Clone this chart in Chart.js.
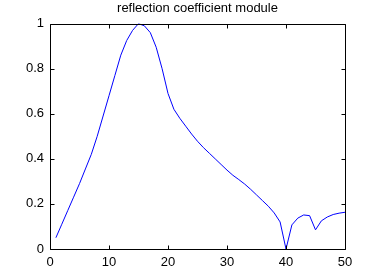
<!DOCTYPE html>
<html>
<head>
<meta charset="utf-8">
<script src="https://cdn.jsdelivr.net/npm/chart.js@4.4.1/dist/chart.umd.min.js"></script>
<style>
  html, body { margin: 0; padding: 0; background: #fff; }
  #wrap { width: 381px; height: 280px; }
</style>
</head>
<body>
<div id="wrap"><canvas id="c" width="381" height="280"></canvas></div>
<script>
// sample index and reflection coefficient magnitude
const xs = [1, 2, 3, 4, 5, 6, 7, 8, 9, 10,
            11, 12, 13, 14, 15, 16, 17, 18, 19, 20,
            21, 22, 23, 24, 25, 26, 27, 28, 29, 30,
            31, 32, 33, 34, 35, 36, 37, 38, 39, 40,
            41, 42, 43, 44, 45, 46, 47, 48, 49, 50];
const ys = [0.05, 0.11, 0.17, 0.23, 0.29, 0.355, 0.42, 0.50, 0.59, 0.68,
            0.77, 0.86, 0.925, 0.97, 1.0, 0.99, 0.96, 0.895, 0.80, 0.69,
            0.62, 0.58, 0.545, 0.51, 0.478, 0.45, 0.425, 0.40, 0.375, 0.35,
            0.327, 0.308, 0.288, 0.265, 0.24, 0.215, 0.19, 0.16, 0.12, 0.0,
            0.107, 0.137, 0.151, 0.148, 0.085, 0.125, 0.142, 0.153, 0.159, 0.163];
const xTicks = [0, 10, 20, 30, 40, 50];
const yTicks = [0, 0.2, 0.4, 0.6, 0.8, 1];
const title = 'reflection coefficient module';

const pts = xs.map((x, i) => ({ x: x, y: ys[i] }));

// matlab style box with inward ticks on all four sides
const boxPlugin = {
  id: 'box',
  afterDraw(chart) {
    const ctx = chart.ctx, a = chart.chartArea;
    const sx = chart.scales.x, sy = chart.scales.y;
    const L = Math.round(a.left) + 0.5, R = Math.round(a.right) + 0.5;
    const T = Math.round(a.top) + 0.5, B = Math.round(a.bottom) + 0.5;
    const len = 4;
    ctx.save();
    ctx.strokeStyle = '#000';
    ctx.lineWidth = 1;
    ctx.beginPath();
    ctx.rect(L, T, R - L, B - T);
    xTicks.forEach(v => {
      const p = Math.round(sx.getPixelForValue(v)) + 0.5;
      ctx.moveTo(p, B); ctx.lineTo(p, B - len);
      ctx.moveTo(p, T); ctx.lineTo(p, T + len);
    });
    yTicks.forEach(v => {
      const p = Math.round(sy.getPixelForValue(v)) + 0.5;
      ctx.moveTo(L, p); ctx.lineTo(L + len, p);
      ctx.moveTo(R, p); ctx.lineTo(R - len, p);
    });
    ctx.stroke();
    ctx.restore();
  }
};

const font = { family: "'Liberation Sans', Arial, sans-serif", size: 13 };

new Chart(document.getElementById('c'), {
  type: 'line',
  data: {
    datasets: [{
      data: pts,
      borderColor: '#0000ff',
      borderWidth: 1,
      pointRadius: 0,
      tension: 0,
      fill: false
    }]
  },
  options: {
    responsive: false,
    animation: false,
    layout: { padding: { left: 0, right: 36, top: 0, bottom: 0 } },
    plugins: {
      legend: { display: false },
      tooltip: { enabled: false },
      title: {
        display: true,
        text: title,
        fullSize: false,
        color: '#000',
        font: { family: font.family, size: 13, weight: 'normal' },
        padding: { top: 1, bottom: 7 }
      }
    },
    scales: {
      x: {
        type: 'linear',
        min: 0, max: 50,
        afterFit(s) { s.height = 31; },
        afterBuildTicks(s) { s.ticks = xTicks.map(v => ({ value: v })); },
        grid: { display: false, drawTicks: false },
        border: { display: false },
        ticks: { color: '#000', font: font, padding: 6, maxRotation: 0,
                 callback: v => String(v) }
      },
      y: {
        type: 'linear',
        min: 0, max: 1,
        afterFit(s) { s.width = 50; },
        afterBuildTicks(s) { s.ticks = yTicks.map(v => ({ value: v })); },
        grid: { display: false, drawTicks: false },
        border: { display: false },
        ticks: { color: '#000', font: font, padding: 6,
                 callback: v => String(v) }
      }
    }
  },
  plugins: [boxPlugin]
});
</script>
</body>
</html>
